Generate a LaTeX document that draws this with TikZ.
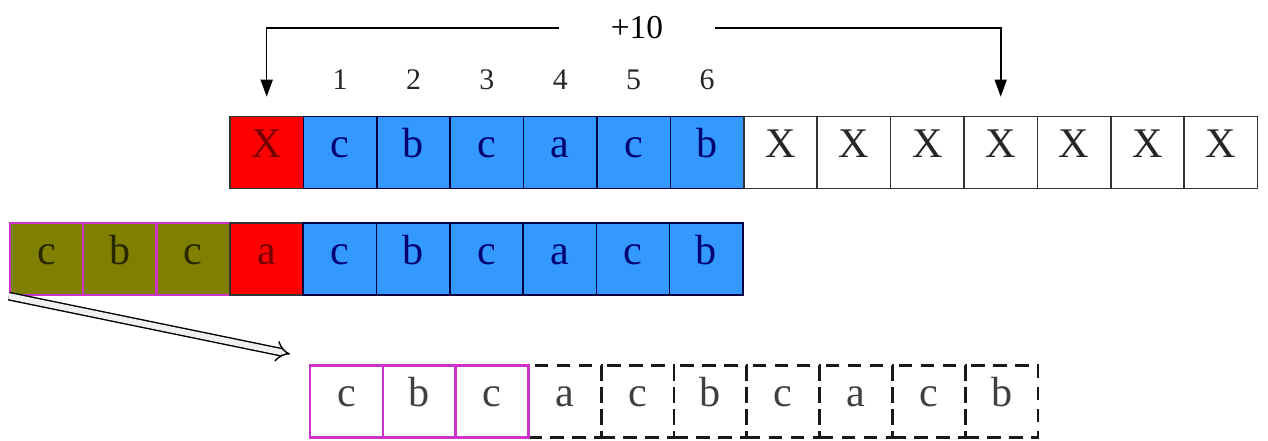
\documentclass[tikz,border=0pt]{standalone}
\usepackage{fontspec}
\setmainfont{Liberation Serif}
\usetikzlibrary{arrows.meta,positioning}
\definecolor{cellred}{HTML}{FF0000}
\definecolor{cellblue}{HTML}{3399FF}
\definecolor{cellolive}{HTML}{808000}
\definecolor{cellpink}{HTML}{CC33CC}
\tikzset{
  cell/.style={draw,minimum width=14.68mm,minimum height=14.4mm,inner sep=0pt,line width=0.9pt,
    text height=1.45ex,text depth=0.1ex,font=\fontsize{24}{26}\selectfont},
  redcell/.style={cell,fill=cellred,draw=black!80,text=red!45!black},
  bluecell/.style={cell,fill=cellblue,draw=blue!25!black,text=blue!45!black},
  xcell/.style={cell,fill=white,draw=black!80,text=black!85},
  olivecell/.style={cell,fill=cellolive,draw=cellpink,line width=1.3pt,text=black!70!cellolive},
  pinkcell/.style={cell,draw=cellpink,line width=1.3pt,text=black!75,minimum width=14.56mm},
  dashcell/.style={cell,draw=black!90,dash pattern=on 2.7mm off 1.7mm,line width=1.5pt,text=black!75,minimum width=14.56mm},
  numlbl/.style={font=\fontsize{17}{18}\selectfont,text=black!85},
  ar/.style={-{Triangle[length=3.4mm,width=2.4mm]},line width=0.9pt},
  move/.style={double=black!6,double distance=3.4pt,line width=0.8pt,-{Implies}},
}
\begin{document}
\begin{tikzpicture}[x=0.2mm,y=-0.2mm]
  \useasboundingbox (0,0) rectangle (1268,441);
  % row 1: buffer with free slots
  \node[redcell] (a0) at ({230+73.4*0.5},152.5) {X};
  \foreach \i/\t in {1/c,2/b,3/c,4/a,5/c,6/b}{
    \node[bluecell] (a\i) at ({230+73.4*(\i+0.5)},152.5) {\t};
    \node[numlbl] (n\i) at ([yshift=7.2mm]a\i.north) {\i};}
  \foreach \i in {7,...,13}
    \node[xcell] (a\i) at ({230+73.4*(\i+0.5)},152.5) {X};
  \node[font=\fontsize{19}{20}\selectfont,minimum width=31mm,inner sep=0pt] (jump) at (637,28) {+10};
  \draw[ar,shorten >=3.8mm] (jump.west) -| (a0.north);
  \draw[ar,shorten >=3.8mm] (jump.east) -| (a10.north);
  % row 2
  \foreach \i/\t in {0/c,1/b,2/c}
    \node[olivecell] (b\i) at ({10+73.3*(\i+0.5)},259) {\t};
  \node[redcell] (b3) at ({10+73.3*3.5},259) {a};
  \foreach \i/\t in {4/c,5/b,6/c,7/a,8/c,9/b}
    \node[bluecell] (b\i) at ({10+73.3*(\i+0.5)},259) {\t};
  % row 3 (dashed first, so the pink border stays solid)
  \foreach \i/\t in {3/a,4/c,5/b,6/c,7/a,8/c,9/b}
    \node[dashcell] (c\i) at ({310+72.8*(\i+0.5)},401.5) {\t};
  \foreach \i/\t in {0/c,1/b,2/c}
    \node[pinkcell] (c\i) at ({310+72.8*(\i+0.5)},401.5) {\t};
  \coordinate (dst) at (290,354);
  \draw[move] (b0.south west) -- (dst);
\end{tikzpicture}
\end{document}
